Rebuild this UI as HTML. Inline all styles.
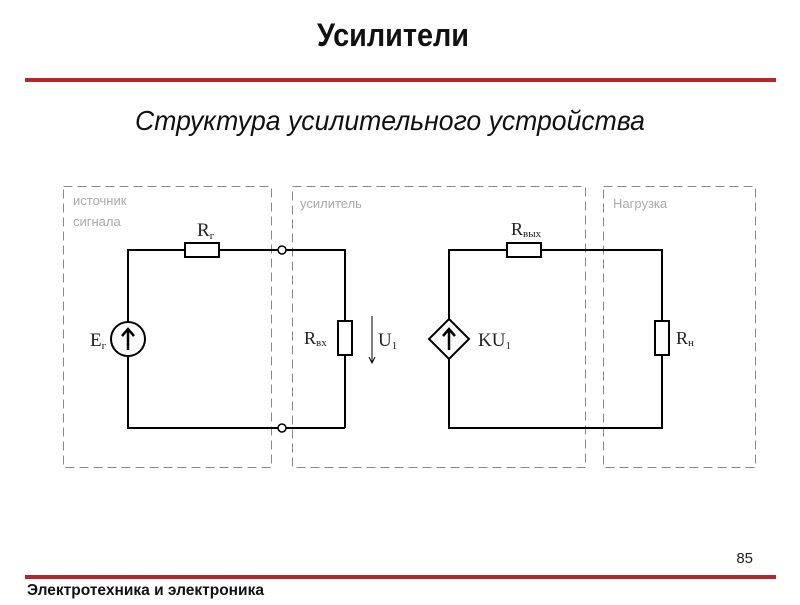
<!DOCTYPE html>
<html><head><meta charset="utf-8"><style>
html,body{margin:0;padding:0;background:#fff;}
body{width:800px;height:600px;overflow:hidden;}
</style></head><body>
<svg width="800" height="600" viewBox="0 0 800 600" xmlns="http://www.w3.org/2000/svg" font-family="Liberation Sans, sans-serif">
<text x="393" y="46" text-anchor="middle" font-size="32" font-weight="bold" fill="#111" transform="translate(393 0) scale(0.9 1) translate(-393 0)">Усилители</text>
<line x1="25" y1="80" x2="776" y2="80" stroke="#b3262b" stroke-width="4"/>
<text x="390" y="130" text-anchor="middle" font-size="28" font-style="italic" fill="#111" transform="translate(390 0) scale(0.95 1) translate(-390 0)">Структура усилительного устройства</text>

<g fill="none" stroke="#888" stroke-width="1" stroke-dasharray="9,5">
<rect x="63.5" y="186.5" width="208" height="281"/>
<rect x="292.5" y="186.5" width="293" height="281"/>
<rect x="603.5" y="186.5" width="152" height="281"/>
</g>
<g font-size="13" fill="#aaa" font-family="Liberation Sans, sans-serif">
<text x="73" y="205">источник</text>
<text x="73" y="226">сигнала</text>
<text x="300" y="208">усилитель</text>
<text x="613" y="208">Нагрузка</text>
</g>

<g stroke="#000" stroke-width="2" fill="none">
<polyline points="128,322 128,250 185,250"/>
<line x1="219" y1="250" x2="278" y2="250"/>
<polyline points="286,250 345,250 345,321"/>
<line x1="345" y1="355" x2="345" y2="428"/>
<polyline points="128,356 128,428 278,428"/>
<line x1="286" y1="428" x2="345" y2="428"/>
<rect x="185" y="243" width="34" height="14" fill="#fff"/>
<rect x="338" y="321" width="14" height="34" fill="#fff"/>
<circle cx="128" cy="339" r="17" fill="#fff"/>
<circle cx="282" cy="250" r="4" fill="#fff" stroke-width="1.5"/>
<circle cx="282" cy="428" r="4" fill="#fff" stroke-width="1.5"/>

<polyline points="449,319 449,250 507,250"/>
<polyline points="541,250 662,250 662,321"/>
<polyline points="449,359 449,428 662,428 662,355"/>
<rect x="507" y="243" width="34" height="14" fill="#fff"/>
<rect x="655" y="321" width="14" height="34" fill="#fff"/>
<polygon points="449,319 469,339 449,359 429,339" fill="#fff"/>
</g>
<g stroke="#000" stroke-width="2.5" fill="none">
<line x1="128" y1="350" x2="128" y2="330"/>
<polyline points="122,336 128,329 134,336"/>
<line x1="449" y1="350" x2="449" y2="330"/>
<polyline points="443,336 449,329 455,336"/>
</g>
<line x1="372" y1="316" x2="372" y2="362" stroke="#000" stroke-width="1"/>
<polyline points="369,357 372,363 375,357" stroke="#000" stroke-width="1" fill="none"/>

<g font-family="Liberation Serif, serif" fill="#222">
<text x="197" y="236" font-size="19">R<tspan font-size="11" dy="3">г</tspan></text>
<text x="90" y="346" font-size="19">E<tspan font-size="11" dy="3">г</tspan></text>
<text x="304" y="344" font-size="18">R<tspan font-size="11" dy="2">вх</tspan></text>
<text x="378" y="346" font-size="19">U<tspan font-size="11" dy="3">1</tspan></text>
<text x="511" y="235" font-size="18">R<tspan font-size="11" dy="2">вых</tspan></text>
<text x="478" y="346" font-size="19">KU<tspan font-size="11" dy="3">1</tspan></text>
<text x="676" y="344" font-size="18">R<tspan font-size="11" dy="2">н</tspan></text>
</g>

<text x="753" y="563" text-anchor="end" font-size="15" fill="#222">85</text>
<line x1="25" y1="577" x2="776" y2="577" stroke="#b3262b" stroke-width="4"/>
<text x="27" y="595" font-size="16" font-weight="bold" fill="#111" transform="translate(27 0) scale(0.97 1) translate(-27 0)">Электротехника и электроника</text>
</svg>
</body></html>
